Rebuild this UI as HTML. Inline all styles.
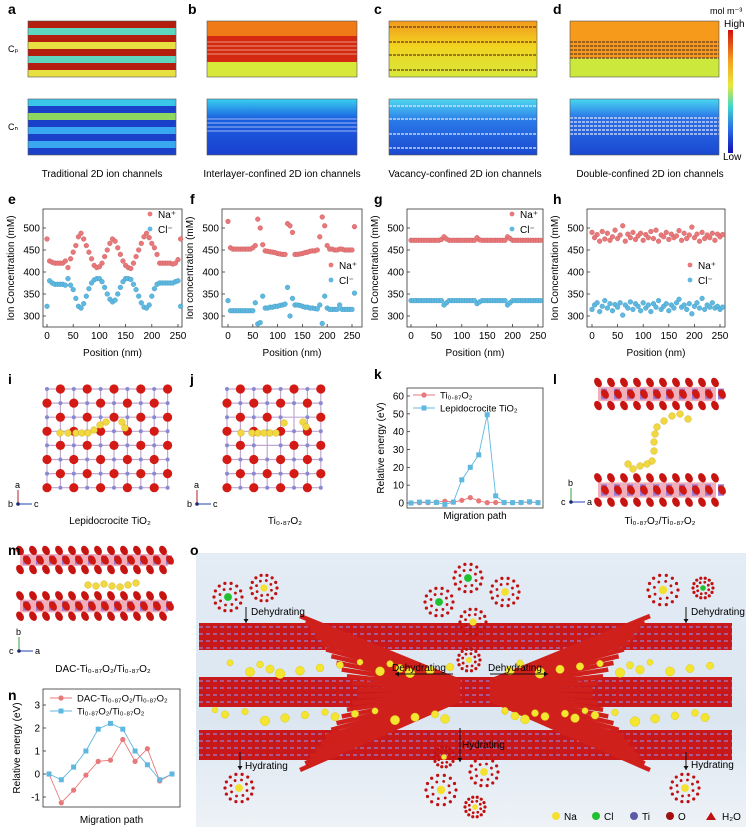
<!DOCTYPE html>
<html><head><meta charset="utf-8"><style>
body{margin:0;background:#fff}
svg{display:block;font-family:"Liberation Sans",Arial,sans-serif}
</style></head><body>
<svg id="fig" width="750" height="831" viewBox="0 0 750 831" xmlns="http://www.w3.org/2000/svg">
<defs>
<linearGradient id="jet" x1="0" y1="0" x2="0" y2="1"><stop offset="0" stop-color="#d01010"/><stop offset="0.25" stop-color="#f5a020"/><stop offset="0.45" stop-color="#e8e83a"/><stop offset="0.62" stop-color="#40d8c8"/><stop offset="0.8" stop-color="#2a70e8"/><stop offset="1" stop-color="#1010b0"/></linearGradient>
<linearGradient id="gcCp" x1="0" y1="0" x2="0" y2="1"><stop offset="0" stop-color="#f39a1e"/><stop offset="0.45" stop-color="#f2d420"/><stop offset="1" stop-color="#d8e83a"/></linearGradient>
<linearGradient id="gcCn" x1="0" y1="0" x2="0" y2="1"><stop offset="0" stop-color="#50d8f0"/><stop offset="0.4" stop-color="#2a78e8"/><stop offset="1" stop-color="#1a48d0"/></linearGradient>
<linearGradient id="gbCn" x1="0" y1="0" x2="0" y2="1"><stop offset="0" stop-color="#3ad0f0"/><stop offset="0.35" stop-color="#1a60e0"/><stop offset="1" stop-color="#1a40d0"/></linearGradient>
<linearGradient id="gdCn" x1="0" y1="0" x2="0" y2="1"><stop offset="0" stop-color="#48d8f0"/><stop offset="0.35" stop-color="#2a70e8"/><stop offset="1" stop-color="#1a48d0"/></linearGradient>
<linearGradient id="obg" x1="0" y1="0" x2="0" y2="1"><stop offset="0" stop-color="#e4ecf5"/><stop offset="0.6" stop-color="#dbe6f1"/><stop offset="1" stop-color="#eef2f7"/></linearGradient>
</defs>
<g id="top"></g>
<g id="charts"></g>
<g id="crys"></g>
<g id="opanel"></g>
</svg>
<script>
const NS="http://www.w3.org/2000/svg";
function mk(p,t,a,txt){const e=document.createElementNS(NS,t);for(const k in a)e.setAttribute(k,a[k]);if(txt!==undefined)e.textContent=txt;p.appendChild(e);return e;}
const svg=document.getElementById('fig');

// ---------------- Chart data ----------------
const positions=[0,5,10,15,20,25,30,35,40,45,50,55,60,65,70,75,80,85,90,95,100,105,110,115,120,125,130,135,140,145,150,155,160,165,170,175,180,185,190,195,200,205,210,215,220,225,230,235,240,245,250,255];
const eNa=[475,425,422,420,420,420,420,425,410,430,445,460,480,488,475,460,445,430,415,410,412,420,435,450,465,475,470,455,440,425,415,410,408,420,435,450,465,480,488,478,465,455,440,420,420,420,420,420,418,420,428,475];
const eCl=[322,380,375,372,372,372,372,370,385,370,360,340,322,318,328,345,362,375,382,385,385,378,365,350,338,332,336,350,365,378,385,385,383,372,360,345,330,320,318,325,345,362,372,375,375,375,375,375,375,378,380,322];
const fNa=[515,455,452,452,452,452,452,452,452,452,455,460,520,500,462,448,447,446,445,444,442,441,440,440,510,505,490,440,440,441,442,444,445,447,448,448,450,480,525,505,460,452,452,450,450,452,452,450,450,450,450,503];
const fCl=[335,312,312,312,312,312,312,312,312,312,312,330,282,285,345,318,318,320,320,322,322,324,325,327,365,300,340,325,325,324,322,320,320,318,318,317,316,325,283,345,318,315,315,315,315,325,315,315,315,315,315,352];
const gNa=[472,472,472,472,472,472,472,472,472,472,472,472,474,480,475,472,472,472,472,472,472,472,472,472,472,472,478,473,472,472,472,472,472,472,472,472,472,472,480,476,472,472,472,472,472,472,472,472,472,472,472,472];
const gCl=[335,335,335,335,335,335,335,335,335,335,335,335,335,325,330,335,335,335,335,335,335,335,335,335,335,335,328,332,335,335,335,335,335,335,335,335,335,335,325,330,335,335,335,335,335,335,335,335,335,335,335,335];
const hNa=[490,478,485,470,492,475,488,472,480,495,476,484,505,470,486,478,490,474,482,488,472,485,478,492,476,495,470,484,480,490,474,486,478,482,494,472,488,476,484,502,478,486,470,490,476,484,478,488,472,486,480,485];
const hCl=[315,325,330,310,322,335,318,328,312,326,320,330,302,325,318,332,315,328,322,312,330,318,325,310,328,320,335,315,322,328,312,325,318,330,338,320,325,315,328,305,322,330,318,340,315,325,320,330,318,322,315,320];
const yTicks=[300,350,400,450,500];
const xTicks=[0,50,100,150,200,250];
const kRed=[0,0.2,0.2,0.5,1,0.5,1.5,3,1.2,0.2,0.3,0.2,0.2,0.2,0.5,0.2];
const kBlue=[0,0.5,0.5,0.3,-0.8,0.5,13,20,27,49.5,4,0.3,0.2,0.3,0.7,0.2];
const kTicks=[0,10,20,30,40,50,60];
const nRed=[0,-1.25,-0.7,-0.05,0.55,0.6,1.5,0.55,1.1,-0.3,0];
const nBlue=[0,-0.25,0.3,1,1.95,2.2,1.95,1,0.4,-0.25,0];
const nTicks=[-1,0,1,2,3];

const RED="#e8787a",BLUE="#5fb8e0";
function panelLetter(x,y,t){const e=mk(svg,'text',{x:x,y:y,'font-size':14,'font-weight':'bold',fill:'#000'},t);

}

// ---------------- Top heatmaps ----------------
const topG=document.getElementById('top');
function stripes(x,y,w,cols,h){let yy=y;cols.forEach(c=>{mk(topG,'rect',{x:x,y:yy,width:w,height:h,fill:c});yy+=h;});}
function dashLine(x,y,w,col){mk(topG,'line',{x1:x,y1:y,x2:x+w,y2:y,stroke:col,'stroke-width':1.2,'stroke-dasharray':'3 1'});}
stripes(28,21,148,['#b41e0e','#5fd7c0','#b41e0e','#e8e040','#b41e0e','#5fd7c0','#b41e0e','#e8e040'],7);
stripes(28,99,148,['#39c6e8','#1a3fc8','#8fd860','#1a3fc8','#3aa8f0','#1a3fc8','#3aa8f0','#1a3fc8'],7);
mk(topG,'rect',{x:207,y:21,width:150,height:56,fill:'#f07a18'});
mk(topG,'rect',{x:207,y:36,width:150,height:26,fill:'#d42810'});
mk(topG,'rect',{x:207,y:62,width:150,height:15,fill:'#d8e83a'});
[42,46,50,54].forEach(y=>mk(topG,'line',{x1:207,y1:y,x2:357,y2:y,stroke:'#f0c0a0','stroke-width':0.8}));
mk(topG,'rect',{x:207,y:99,width:150,height:56,fill:'url(#gbCn)'});
[119,123,127,131].forEach(y=>mk(topG,'line',{x1:207,y1:y,x2:357,y2:y,stroke:'#c8d8ff','stroke-width':0.8}));
mk(topG,'rect',{x:389,y:21,width:148,height:56,fill:'url(#gcCp)'});
[27,42,55,70].forEach(y=>dashLine(389,y,148,'#6a3a20'));
mk(topG,'rect',{x:389,y:99,width:148,height:56,fill:'url(#gcCn)'});
[106,119,134,148].forEach(y=>dashLine(389,y,148,'#e0e8ff'));
mk(topG,'rect',{x:570,y:21,width:149,height:56,fill:'#f59a1a'});
mk(topG,'rect',{x:570,y:58,width:149,height:19,fill:'#cce83c'});
[42,46,50,54,58].forEach(y=>dashLine(570,y,149,'#6a3a20'));
mk(topG,'rect',{x:570,y:99,width:149,height:56,fill:'url(#gdCn)'});
[118,122,126,130,134].forEach(y=>dashLine(570,y,149,'#e0e8ff'));
[[28,21],[207,21],[389,21],[570,21],[28,99],[207,99],[389,99],[570,99]].forEach(p=>mk(topG,'rect',{x:p[0],y:p[1],width:p[0]==207?150:(p[0]==570?149:148),height:56,fill:'none',stroke:'#555','stroke-width':0.6}));
mk(topG,'rect',{x:728,y:30,width:5,height:123,fill:'url(#jet)'});
mk(topG,'text',{x:710,y:14,'font-size':9},'mol m⁻³');
mk(topG,'text',{x:724,y:27,'font-size':10},'High');
mk(topG,'text',{x:723,y:160,'font-size':10},'Low');
mk(topG,'text',{x:8,y:52,'font-size':9},'Cₚ');
mk(topG,'text',{x:8,y:130,'font-size':9},'Cₙ');
[[102,'Traditional 2D ion channels'],[282,'Interlayer-confined 2D ion channels'],[465,'Vacancy-confined 2D ion channels'],[650,'Double-confined 2D ion channels']].forEach(c=>{const t=mk(topG,'text',{x:c[0],y:177,'font-size':10,'text-anchor':'middle'},c[1]);

});
panelLetter(8,14,'a');panelLetter(188,14,'b');panelLetter(374,14,'c');panelLetter(553,14,'d');

// ---------------- Scatter panels e-h ----------------
const ch=document.getElementById('charts');
function scatterPanel(name,fx0,fx1,xa,xb,na,cl,legX,legY,ylab){
  const g=mk(ch,'g',{});
  
  
  const fy0=209,fy1=327;
  const X=v=>xa+(v-0)*(xb-xa)/250;
  const Y=v=>316-(v-300)*(316-228)/200;
  mk(g,'rect',{x:fx0,y:fy0,width:fx1-fx0,height:fy1-fy0,fill:'none',stroke:'#333','stroke-width':0.8});
  yTicks.forEach(t=>{mk(g,'line',{x1:fx0,y1:Y(t),x2:fx0+3,y2:Y(t),stroke:'#333','stroke-width':0.8});
    const tl=mk(g,'text',{x:fx0-3,y:Y(t)+3.5,'font-size':10,'text-anchor':'end'},t);
    
    });
  xTicks.forEach(t=>{mk(g,'line',{x1:X(t),y1:fy1,x2:X(t),y2:fy1-3,stroke:'#333','stroke-width':0.8});
    const tl=mk(g,'text',{x:X(t),y:fy1+12,'font-size':10,'text-anchor':'middle'},t);
    
    });
  const xt=mk(g,'text',{x:(fx0+fx1)/2,y:356,'font-size':10,'text-anchor':'middle'},'Position (nm)');
  
  
  const yt=mk(g,'text',{x:0,y:0,'font-size':10,'text-anchor':'middle',transform:`translate(${fx0-29},${(fy0+fy1)/2}) rotate(-90)`},ylab);
  
  
  na.forEach((v,i)=>{const c=mk(g,'circle',{cx:X(positions[i]),cy:Y(v),r:2.4,fill:RED,stroke:'#c85a5c','stroke-width':0.4});
    
    });
  cl.forEach((v,i)=>{const c=mk(g,'circle',{cx:X(positions[i]),cy:Y(v),r:2.4,fill:BLUE,stroke:'#3a98c0','stroke-width':0.4});
    
    });
  const l1=mk(g,'circle',{cx:legX,cy:legY,r:2.4,fill:RED});
  
  
  mk(g,'text',{x:legX+8,y:legY+4,'font-size':10},'Na⁺');
  const l2=mk(g,'circle',{cx:legX,cy:legY+15,r:2.4,fill:BLUE});
  
  
  mk(g,'text',{x:legX+8,y:legY+19,'font-size':10},'Cl⁻');
}
scatterPanel('e',43,182,47,178,eNa,eCl,150,214,'Ion Concentration (mM)');
scatterPanel('f',222,362,228,352,fNa,fCl,331,265,'Ion concentration (mM)');
scatterPanel('g',407,543,411,538,gNa,gCl,512,214,'Ion Concentration (mM)');
scatterPanel('h',587,725,592,720,hNa,hCl,690,265,'Ion Concentration (mM)');
panelLetter(8,204,'e');panelLetter(190,204,'f');panelLetter(374,204,'g');panelLetter(553,204,'h');

// ---------------- Line charts k and n ----------------
function lineChart(name,fx0,fx1,fy0,fy1,px0,px1,yAt,ticks,red,blue,leg,labelY){
  const g=mk(ch,'g',{});
  
  
  const n=blue.length;
  const X=i=>px0+i*(px1-px0)/(n-1);
  const Y=v=>yAt[0]+(v-yAt[1])*(yAt[2]-yAt[0])/(yAt[3]-yAt[1]);
  mk(g,'rect',{x:fx0,y:fy0,width:fx1-fx0,height:fy1-fy0,fill:'none',stroke:'#333','stroke-width':0.8});
  ticks.forEach(t=>{mk(g,'line',{x1:fx0,y1:Y(t),x2:fx0+3,y2:Y(t),stroke:'#333','stroke-width':0.8});
    const tl=mk(g,'text',{x:fx0-3,y:Y(t)+3.5,'font-size':10,'text-anchor':'end'},t);
    
    });
  const yt=mk(g,'text',{x:0,y:0,'font-size':10,'text-anchor':'middle',transform:`translate(${fx0-23},${(fy0+fy1)/2}) rotate(-90)`},'Relative energy (eV)');
  
  
  const xt=mk(g,'text',{x:(fx0+fx1)/2,y:labelY,'font-size':10,'text-anchor':'middle'},'Migration path');
  
  
  const pr=mk(g,'polyline',{points:red.map((v,i)=>X(i)+','+Y(v)).join(' '),fill:'none',stroke:RED,'stroke-width':0.9});
  
  
  const pb=mk(g,'polyline',{points:blue.map((v,i)=>X(i)+','+Y(v)).join(' '),fill:'none',stroke:BLUE,'stroke-width':0.9});
  
  
  red.forEach((v,i)=>{const c=mk(g,'circle',{cx:X(i),cy:Y(v),r:2.6,fill:RED});
    
    });
  blue.forEach((v,i)=>{const c=mk(g,'rect',{x:X(i)-2.5,y:Y(v)-2.5,width:5,height:5,fill:BLUE});
    
    });
  mk(g,'line',{x1:leg[0],y1:leg[1],x2:leg[0]+22,y2:leg[1],stroke:RED,'stroke-width':0.9});
  mk(g,'circle',{cx:leg[0]+11,cy:leg[1],r:2.6,fill:RED});
  mk(g,'text',{x:leg[0]+27,y:leg[1]+3.5,'font-size':9.5},leg[2]);
  mk(g,'line',{x1:leg[0],y1:leg[1]+13,x2:leg[0]+22,y2:leg[1]+13,stroke:BLUE,'stroke-width':0.9});
  mk(g,'rect',{x:leg[0]+8.5,y:leg[1]+10.5,width:5,height:5,fill:BLUE});
  mk(g,'text',{x:leg[0]+27,y:leg[1]+16.5,'font-size':9.5},leg[3]);
}
lineChart('k',407,543,388,508,411,538,[503,0,396,60],kTicks,kRed,kBlue,[413,395,'Ti₀.₈₇O₂','Lepidocrocite TiO₂'],519);
lineChart('n',43,180,689,807,49,172,[774,0,751,1],nTicks,nRed,nBlue,[50,698,'DAC-Ti₀.₈₇O₂/Ti₀.₈₇O₂','Ti₀.₈₇O₂/Ti₀.₈₇O₂'],823);
panelLetter(374,379,'k');panelLetter(8,700,'n');

// ---------------- Crystal structures ----------------
const cr=document.getElementById('crys');
function grid(x0,y0,cols,rows,dx,dy,skip){
  for(let r=0;r<rows;r++){mk(cr,'line',{x1:x0,y1:y0+r*dy,x2:x0+(cols-1)*dx,y2:y0+r*dy,stroke:'#c0a8d0','stroke-width':1.2});}
  for(let c=0;c<cols;c++){mk(cr,'line',{x1:x0+c*dx,y1:y0,x2:x0+c*dx,y2:y0+(rows-1)*dy,stroke:'#c0a8d0','stroke-width':1.2});}
  for(let r=0;r<rows;r++)for(let c=0;c<cols;c++){
    const x=x0+c*dx,y=y0+r*dy;
    if((r+c)%2==1){if(!(skip&&skip(r,c)))mk(cr,'circle',{cx:x,cy:y,r:4.6,fill:'#d41a14'});}
    else mk(cr,'circle',{cx:x,cy:y,r:2,fill:'#8a88d0'});
  }
}
function yellow(pts){pts.forEach(p=>mk(cr,'circle',{cx:p[0],cy:p[1],r:3.4,fill:'#f2d840',stroke:'#c8a820','stroke-width':0.4}));}
grid(47,389,10,8,13.4,14.1);
yellow([[60,433],[68,433],[76,433],[82,433],[88,433],[94,430],[100,425],[106,422],[122,422],[125,428]]);
grid(227,389,8,8,13.4,14.1,(r,c)=>(r==2&&c==5)||(r==4&&c==3));
yellow([[241,433],[252,433],[258,433],[264,433],[270,433],[276,433],[284,423],[303,422],[306,427]]);
function axes(x,y,l1,l2,third){mk(cr,'line',{x1:x,y1:y,x2:x+14,y2:y,stroke:'#2040b0','stroke-width':1});
  mk(cr,'line',{x1:x,y1:y,x2:x,y2:y-14,stroke:l1=='b'?'#30a040':'#b02020','stroke-width':1});
  mk(cr,'circle',{cx:x,cy:y,r:1.8,fill:'#1a2a70'});
  mk(cr,'text',{x:x-3,y:y-16,'font-size':9},l1);mk(cr,'text',{x:x-10,y:y+3,'font-size':9},third);mk(cr,'text',{x:x+16,y:y+3,'font-size':9},l2);}
axes(18,504,'a','c','b');axes(197,504,'a','c','b');
axes(571,502,'b','a','c');axes(19,651,'b','a','c');
mk(cr,'text',{x:110,y:524,'font-size':10,'text-anchor':'middle'},'Lepidocrocite TiO₂');
mk(cr,'text',{x:285,y:524,'font-size':10,'text-anchor':'middle'},'Ti₀.₈₇O₂');
mk(cr,'text',{x:660,y:524,'font-size':10,'text-anchor':'middle'},'Ti₀.₈₇O₂/Ti₀.₈₇O₂');
mk(cr,'text',{x:103,y:672,'font-size':10,'text-anchor':'middle'},'DAC-Ti₀.₈₇O₂/Ti₀.₈₇O₂');
function slab(x0,x1,y0,h){
  mk(cr,'rect',{x:x0,y:y0+h*0.3,width:x1-x0,height:h*0.4,fill:'#e87a90',opacity:0.6});
  for(let x=x0;x<=x1;x+=13){
    mk(cr,'rect',{x:x+3,y:y0+h*0.35,width:6,height:h*0.3,fill:'#9a7ad8'});
    mk(cr,'ellipse',{cx:x,cy:y0+h*0.18,rx:3.5,ry:5,fill:'#c81410',transform:`rotate(-30 ${x} ${y0+h*0.18})`});
    mk(cr,'ellipse',{cx:x+7,cy:y0+h*0.5,rx:3.5,ry:5,fill:'#d01812',transform:`rotate(-30 ${x+7} ${y0+h*0.5})`});
    mk(cr,'ellipse',{cx:x,cy:y0+h*0.82,rx:3.5,ry:5,fill:'#c81410',transform:`rotate(-30 ${x} ${y0+h*0.82})`});
  }
}
slab(598,716,376,36);slab(598,716,471,38);
yellow([[688,419],[680,414],[672,416],[664,421],[657,427],[655,434],[654,442],[654,451],[652,461],[647,464],[640,466],[633,469],[628,464]]);
slab(20,168,545,30);slab(20,168,590,32);
yellow([[88,585],[96,586],[104,584],[112,586],[120,587],[128,585],[136,583]]);
panelLetter(8,384,'i');panelLetter(190,384,'j');panelLetter(553,384,'l');panelLetter(8,555,'m');

// ---------------- Panel o (schematic) ----------------
const op=document.getElementById('opanel');
panelLetter(190,555,'o');
mk(op,'rect',{x:196,y:553,width:550,height:274,fill:'url(#obg)'});
const CX=475,CY=690;
[[623,650],[677,707],[730,760]].forEach(b=>{
  mk(op,'rect',{x:199,y:b[0],width:533,height:b[1]-b[0],fill:'#c8181a'});
  for(let y=b[0]+4;y<b[1];y+=7)mk(op,'line',{x1:199,y1:y,x2:732,y2:y,stroke:'#9a80d8','stroke-width':1.3,'stroke-dasharray':'4 3'});
});
for(let i=0;i<24;i++){
  const t=i/23;
  const ly=616+t*(770-616);
  mk(op,'line',{x1:300+(1-Math.abs(t-0.5)*2)*60,y1:ly,x2:CX-15,y2:CY+(ly-CY)*0.12,stroke:'#d0201c','stroke-width':4.5});
  mk(op,'line',{x1:650-(1-Math.abs(t-0.5)*2)*60,y1:ly,x2:CX+15,y2:CY+(ly-CY)*0.12,stroke:'#d0201c','stroke-width':4.5});
}
for(let i=0;i<60;i++){
  const s=(i*37)%100/100, s2=(i*53)%100/100;
  const band=i%2?668:716;
  let x=215+s*500; if(Math.abs(x-CX)<25)x+=50;
  const y=band+(s2-0.5)*12;
  mk(op,'circle',{cx:x,cy:y,r:3+s2*2,fill:'#f4e630',stroke:'#d8c010','stroke-width':0.4});
}
function shell(x,y,core,r){
  for(let k=0;k<14;k++){const a=k/14*6.283;mk(op,'circle',{cx:x+Math.cos(a)*r,cy:y+Math.sin(a)*r,r:1.6,fill:'#c01010'});}
  for(let k=0;k<8;k++){const a=k/8*6.283+0.3;mk(op,'circle',{cx:x+Math.cos(a)*r*0.6,cy:y+Math.sin(a)*r*0.6,r:1.4,fill:'#c01010'});}
  mk(op,'circle',{cx:x,cy:y,r:r*0.28,fill:core});
}
const G='#20c030',Yl='#f4e030';
[[228,597,G,14],[264,588,Yl,13],[468,578,G,14],[439,602,G,14],[505,592,Yl,14],[473,622,Yl,13],[469,660,Yl,11],[663,590,Yl,15],[703,588,G,10],[239,788,Yl,14],[444,757,Yl,10],[484,772,Yl,14],[441,790,Yl,15],[475,807,Yl,10],[685,788,Yl,14]].forEach(s=>shell(s[0],s[1],s[2],s[3]));
function arrowV(x,y1,y2){mk(op,'line',{x1:x,y1:y1,x2:x,y2:y2,stroke:'#111','stroke-width':1});mk(op,'path',{d:`M${x-2.5},${y2-4} L${x},${y2} L${x+2.5},${y2-4}Z`,fill:'#111'});}
function arrowH(x1,x2,y){mk(op,'line',{x1:x1,y1:y,x2:x2,y2:y,stroke:'#111','stroke-width':1});const d=x2>x1?-4:4;mk(op,'path',{d:`M${x2+d},${y-2.5} L${x2},${y} L${x2+d},${y+2.5}Z`,fill:'#111'});}
arrowV(246,607,623);mk(op,'text',{x:251,y:615,'font-size':10},'Dehydrating');
arrowV(686,607,623);mk(op,'text',{x:691,y:615,'font-size':10},'Dehydrating');
arrowH(453,395,674);mk(op,'text',{x:392,y:671,'font-size':10},'Dehydrating');
arrowH(490,548,674);mk(op,'text',{x:488,y:671,'font-size':10},'Dehydrating');
arrowV(460,728,762);mk(op,'text',{x:462,y:748,'font-size':10},'Hydrating');
arrowV(240,752,770);mk(op,'text',{x:245,y:769,'font-size':10},'Hydrating');
arrowV(686,752,770);mk(op,'text',{x:691,y:768,'font-size':10},'Hydrating');
[[556,'#f4e030','Na'],[596,'#20c030','Cl'],[634,'#5a5aa8','Ti'],[670,'#a01010','O']].forEach(l=>{mk(op,'circle',{cx:l[0],cy:816,r:4,fill:l[1]});const t=mk(op,'text',{x:l[0]+8,y:820,'font-size':10},l[2]);

});
mk(op,'path',{d:'M706,820 L711,812 L716,820Z',fill:'#c01010'});
const h2o=mk(op,'text',{x:722,y:820,'font-size':10},'H₂O');


</script>
</body></html>
